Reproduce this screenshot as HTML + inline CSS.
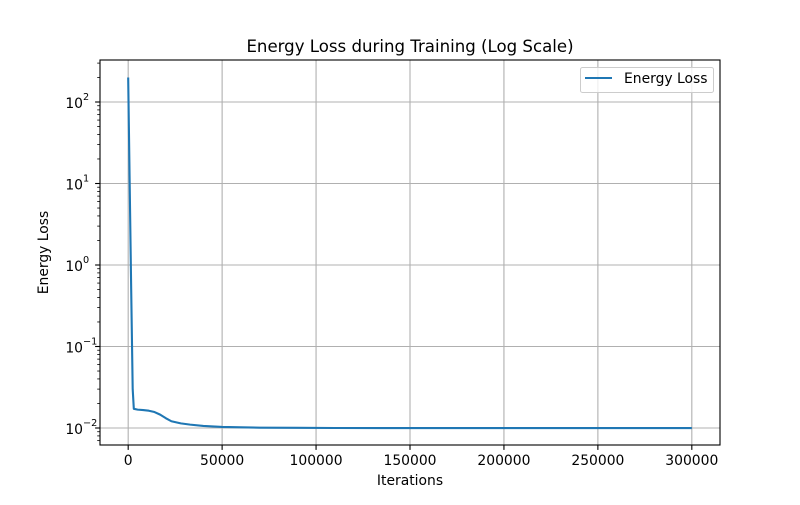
<!DOCTYPE html>
<html><head><meta charset="utf-8"><style>
body{margin:0;background:#fff;}
svg text{font-family:"DejaVu Sans","Liberation Sans",sans-serif;fill:#000;}
</style></head><body>
<svg id="chart" width="800" height="500" xmlns="http://www.w3.org/2000/svg">
<rect width="800" height="500" fill="#fff"/>
<g id="grid"></g>
<g id="series"></g>
<rect x="100" y="60" width="620" height="385" fill="none" stroke="#000" stroke-width="1.1"/>
<g id="axes"></g>
<text x="410" y="52" font-size="16.6" text-anchor="middle">Energy Loss during Training (Log Scale)</text>
<text x="410" y="485" font-size="13.9" text-anchor="middle">Iterations</text>
<text transform="translate(48,252.5) rotate(-90)" font-size="13.9" text-anchor="middle">Energy Loss</text>
<g>
<rect x="580.5" y="67.5" width="133" height="25" rx="2" fill="#fff" fill-opacity="0.8" stroke="#ccc"/>
<line x1="585" y1="78" x2="612" y2="78" stroke="#1f77b4" stroke-width="2"/>
<text x="624" y="83" font-size="13.9">Energy Loss</text>
</g>
</svg>
<script>
const xTicks=[0,50000,100000,150000,200000,250000,300000];
const yTickExps=[-2,-1,0,1,2];
const iterations=[0,800,1600,2400,3000,5000,8000,11000,14000,17000,20000,23000,28000,33000,40000,50000,60000,70000,90000,110000,150000,200000,250000,300000];
const lossValues=[200,10,0.5,0.03,0.0172,0.0168,0.0166,0.0163,0.0157,0.0146,0.0132,0.0121,0.0114,0.0110,0.0106,0.0103,0.0102,0.0101,0.01005,0.01,0.00998,0.00997,0.00997,0.00997];
const NS="http://www.w3.org/2000/svg";
const X0=100,X1=720,Y0=60,Y1=445;
const xMin=-15000,xMax=315000;
const lMin=-2-17/81.5,lMax=2+42/81.5;
function xs(v){return X0+(v-xMin)/(xMax-xMin)*(X1-X0);}
function ys(v){return Y1-(Math.log10(v)-lMin)/(lMax-lMin)*(Y1-Y0);}
function mk(tag,attrs,parent){const e=document.createElementNS(NS,tag);for(const k in attrs)e.setAttribute(k,attrs[k]);parent.appendChild(e);return e;}
const grid=document.getElementById('grid'),axes=document.getElementById('axes'),series=document.getElementById('series');
xTicks.forEach(t=>{const x=xs(t);
 const g=mk('line',{x1:x,x2:x,y1:Y0,y2:Y1,stroke:'#b0b0b0','stroke-width':1.1},grid);
 
 
 mk('line',{x1:x,x2:x,y1:Y1,y2:Y1+4.9,stroke:'#000','stroke-width':1.1},axes);
 const tx=mk('text',{x:x,y:Y1+20,'font-size':13.9,'text-anchor':'middle'},axes);tx.textContent=t;
 
 
});
yTickExps.forEach(e=>{const y=ys(Math.pow(10,e));
 const g=mk('line',{x1:X0,x2:X1,y1:y,y2:y,stroke:'#b0b0b0','stroke-width':1.1},grid);
 
 
 mk('line',{x1:X0-4.9,x2:X0,y1:y,y2:y,stroke:'#000','stroke-width':1.1},axes);
 const tx=mk('text',{x:X0-17,y:y+6,'font-size':13.9,'text-anchor':'end'},axes);tx.textContent='10';
 
 
 const sp=mk('text',{x:X0-17,y:y-2,'font-size':9.7,'text-anchor':'start'},axes);sp.textContent=(e<0?'\u2212':'')+Math.abs(e);
 
 
});
for(let e=-3;e<=2;e++)for(let m=2;m<=9;m++){const v=m*Math.pow(10,e);const y=ys(v);if(y<Y0||y>Y1)continue;
 mk('line',{x1:X0-2.8,x2:X0,y1:y,y2:y,stroke:'#000','stroke-width':0.8},axes);}
const d=iterations.map((v,i)=>(i?'L':'M')+xs(v).toFixed(2)+','+ys(lossValues[i]).toFixed(2)).join(' ');
const p=mk('path',{d:d,fill:'none',stroke:'#1f77b4','stroke-width':2.1,'stroke-linejoin':'round'},series);


</script>
</body></html>
